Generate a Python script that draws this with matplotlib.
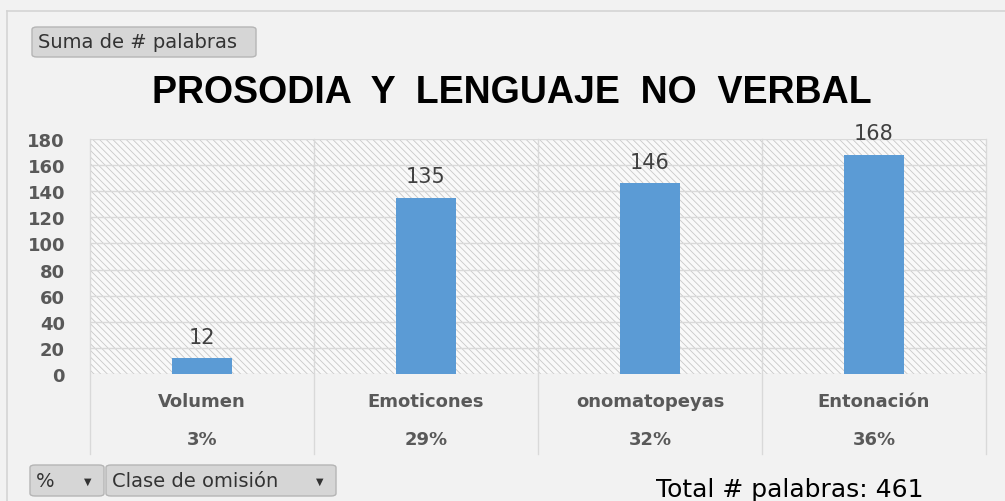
import matplotlib
matplotlib.use("Agg")
import matplotlib.pyplot as plt
from matplotlib.patches import FancyBboxPatch, Rectangle
from matplotlib.lines import Line2D

# datos del grafico
categorias = ["Volumen", "Emoticones", "onomatopeyas", "Entonación"]
palabras = [12, 135, 146, 168]
porcentajes = ["3%", "29%", "32%", "36%"]
yticks = [0, 20, 40, 60, 80, 100, 120, 140, 160, 180]
total = 461

W, H = 1005, 502
fig = plt.figure(figsize=(W / 100, H / 100), dpi=100)
fig.patch.set_facecolor("#f2f2f2")
plt.rcParams["hatch.linewidth"] = 0.6
plt.rcParams["hatch.color"] = "#c8c8c8"


def px(x, y):
    # pixel -> coordenadas de figura
    return x / W, 1 - y / H


# marco exterior
fig.add_artist(Line2D([7 / W, 1], [1 - 12 / H, 1 - 12 / H], color="#d4d4d4", lw=1.2))
fig.add_artist(Line2D([7 / W, 7 / W], [0, 1 - 12 / H], color="#d4d4d4", lw=1.2))

left, right, top, bottom = 90, 986, 140, 375
ax = fig.add_axes([left / W, 1 - bottom / H, (right - left) / W, (bottom - top) / H])
ax.set_facecolor("none")
ax.add_patch(Rectangle((0, 0), 1, 1, transform=ax.transAxes, facecolor="#f9f9f9",
                       edgecolor="#c8c8c8", hatch="\\\\\\\\\\", lw=0, zorder=0))

x = list(range(len(categorias)))
ax.bar(x, palabras, width=0.27, color="#5b9bd5", zorder=3)
for xi, v in zip(x, palabras):
    ax.text(xi, v + 9, str(v), ha="center", va="bottom", fontsize=15,
            color="#404040", family="DejaVu Sans", zorder=4)

ax.set_xlim(-0.5, len(categorias) - 0.5)
ax.set_ylim(0, 180)
ax.set_yticks(yticks)
ax.set_yticklabels([str(t) for t in yticks], fontsize=13, fontweight="bold",
                   color="#595959", family="DejaVu Sans")
ax.tick_params(axis="y", length=0, pad=18)
ax.set_xticks([])
for t in yticks:
    ax.axhline(t, color="#d9d9d9", lw=1, zorder=1)
for s in ax.spines.values():
    s.set_visible(False)

# divisiones de categorias que bajan hasta las etiquetas
tr = ax.get_xaxis_transform()
for b in [i - 0.5 for i in range(len(categorias) + 1)]:
    ax.plot([b, b], [-0.34, 1], transform=tr, color="#d9d9d9", lw=1,
            clip_on=False, zorder=2)

for xi, c, p in zip(x, categorias, porcentajes):
    ax.text(xi, -27 / 235, c, transform=tr, ha="center", va="center", fontsize=13,
            fontweight="bold", color="#595959", family="DejaVu Sans")
    ax.text(xi, -65 / 235, p, transform=tr, ha="center", va="center", fontsize=13,
            fontweight="bold", color="#595959", family="DejaVu Sans")

# titulo
fig.text(*px(512, 93), "PROSODIA  Y  LENGUAJE  NO  VERBAL", ha="center", va="center",
         fontsize=27, fontweight="bold", color="black", family="Liberation Sans")


def boton(x0, y0, x1, y1, texto, flecha=False):
    bx, by = px(x0, y1)
    fig.add_artist(FancyBboxPatch((bx, by), (x1 - x0) / W, (y1 - y0) / H,
                                  boxstyle="round,pad=0,rounding_size=0.005",
                                  facecolor="#d6d6d6", edgecolor="#b5b5b5", lw=1,
                                  transform=fig.transFigure))
    fig.text(*px(x0 + 6, (y0 + y1) / 2), texto, ha="left", va="center",
             fontsize=14, color="#333333", family="DejaVu Sans")
    if flecha:
        fig.text(*px(x1 - 16, (y0 + y1) / 2), "▼", ha="center", va="center",
                 fontsize=7, color="#333333", family="DejaVu Sans")


boton(32, 28, 256, 58, "Suma de # palabras")
boton(30, 466, 104, 497, "%", flecha=True)
boton(106, 466, 336, 497, "Clase de omisión", flecha=True)

fig.text(*px(790, 490), "Total # palabras: " + str(total), ha="center", va="center",
         fontsize=18, color="black", family="DejaVu Sans")

fig.savefig("out.png", dpi=100, facecolor=fig.get_facecolor())
